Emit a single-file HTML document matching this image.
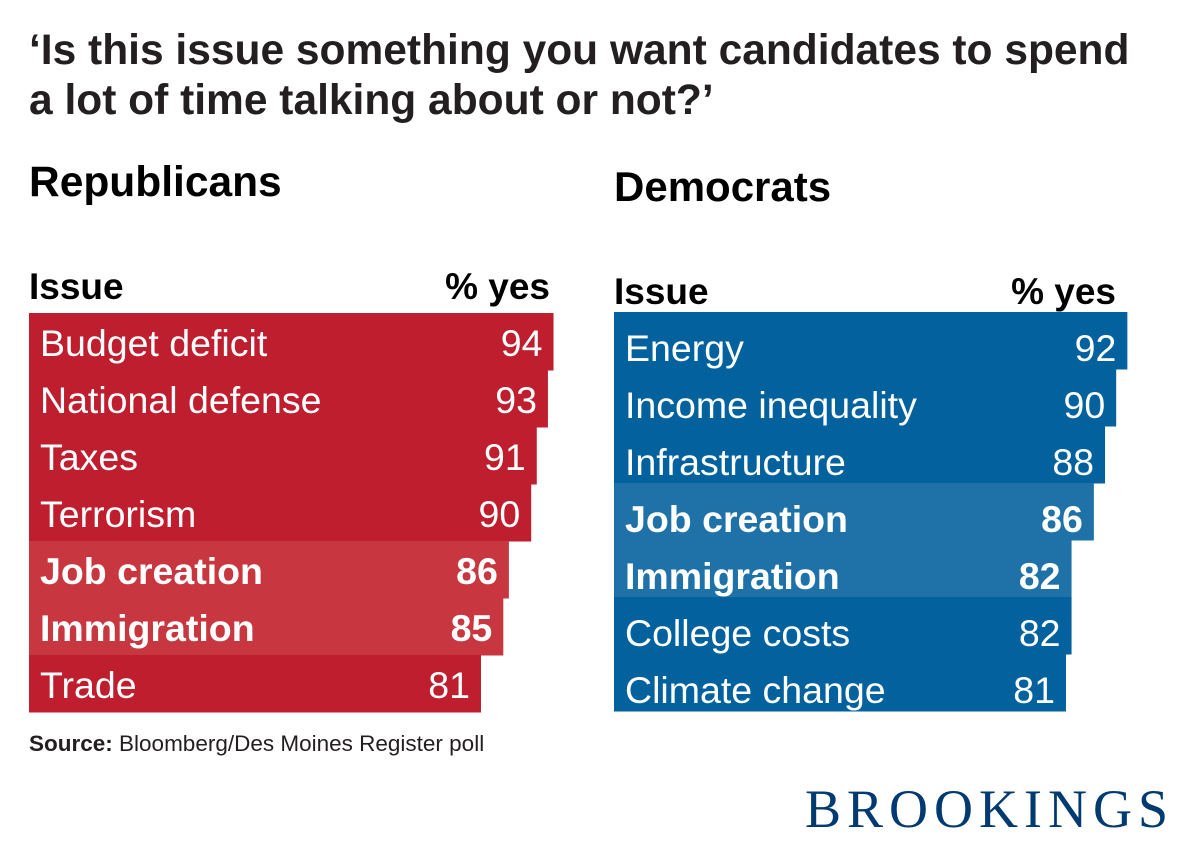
<!DOCTYPE html>
<html><head><meta charset="utf-8"><style>
body{margin:0;background:#fff;width:1200px;height:858px;overflow:hidden;font-family:"Liberation Sans",Arial,sans-serif;}
svg{display:block}
</style></head><body>
<svg id="chart" width="1200" height="858">
<text x="29" y="64" font-size="42.5" font-weight="bold" fill="#231f20">‘Is this issue something you want candidates to spend</text>
<text x="29" y="114" font-size="42.5" font-weight="bold" fill="#231f20">a lot of time talking about or not?’</text>
<text x="29" y="196" font-size="42.5" font-weight="bold" fill="#000">Republicans</text>
<text x="614" y="201" font-size="42" font-weight="bold" fill="#000">Democrats</text>
<text x="29" y="299" font-size="37" font-weight="bold" fill="#000">Issue</text>
<text x="550" y="299" font-size="37" font-weight="bold" fill="#000" text-anchor="end">% yes</text>
<text x="614" y="304" font-size="37" font-weight="bold" fill="#000">Issue</text>
<text x="1116" y="304" font-size="37" font-weight="bold" fill="#000" text-anchor="end">% yes</text>
<g id="rep"></g><g id="dem"></g>
<text x="29" y="751" font-size="22.5" fill="#231f20"><tspan font-weight="bold">Source:</tspan> Bloomberg/Des Moines Register poll</text>
<text x="1174" y="827" font-size="54" fill="#003a70" text-anchor="end" font-family="Liberation Serif,serif" letter-spacing="6">BROOKINGS</text>
</svg>
<script>
const repIssues=["Budget deficit","National defense","Taxes","Terrorism","Job creation","Immigration","Trade"];
const repValues=[94,93,91,90,86,85,81];
const repHighlight=[0,0,0,0,1,1,0];
const demIssues=["Energy","Income inequality","Infrastructure","Job creation","Immigration","College costs","Climate change"];
const demValues=[92,90,88,86,82,82,81];
const demHighlight=[0,0,0,1,1,0,0];
const NS="http://www.w3.org/2000/svg";
const scale=v=>v*5.58;
function draw(gid,x0,top,issues,values,hl,dark,light,prefix,textDy){
  const g=document.getElementById(gid);const rh=57;
  issues.forEach((name,i)=>{
    const y=top+i*rh,w=scale(values[i]);
    const r=document.createElementNS(NS,"rect");
    r.setAttribute("x",x0);r.setAttribute("y",y);r.setAttribute("width",w);r.setAttribute("height",rh+0.5);
    r.setAttribute("fill",hl[i]?light:dark);
    
    
    g.appendChild(r);
    const t=document.createElementNS(NS,"text");
    t.setAttribute("x",x0+11);t.setAttribute("y",y+43+textDy);t.setAttribute("font-size","37.5");t.setAttribute("fill","#fff");
    if(hl[i])t.setAttribute("font-weight","bold");
    t.textContent=name;
    
    
    g.appendChild(t);
    const v=document.createElementNS(NS,"text");
    v.setAttribute("x",x0+w-11);v.setAttribute("y",y+43+textDy);v.setAttribute("font-size","37.5");v.setAttribute("fill","#fff");v.setAttribute("text-anchor","end");
    if(hl[i])v.setAttribute("font-weight","bold");
    v.textContent=values[i];
    
    
    g.appendChild(v);
  });
}
draw("rep",29,313,repIssues,repValues,repHighlight,"#be1e2d","#c8363f","rep",0);
draw("dem",614,312,demIssues,demValues,demHighlight,"#03629e","#1f72a8","dem",6);
</script>
</body></html>
